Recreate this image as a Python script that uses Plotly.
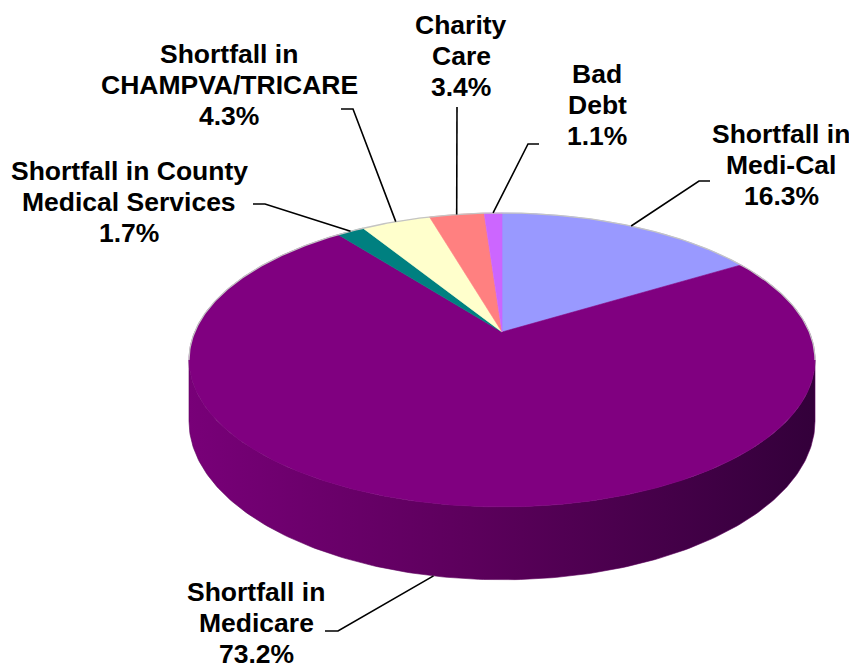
import numpy as np
import plotly.graph_objects as go

# ---------------- data ----------------
categories = ["Shortfall in Medi-Cal", "Shortfall in Medicare",
              "Shortfall in County Medical Services", "Shortfall in CHAMPVA/TRICARE",
              "Charity Care", "Bad Debt"]
values = [16.3, 73.2, 1.7, 4.3, 3.4, 1.1]
label_lines = [["Shortfall in", "Medi-Cal"], ["Shortfall in", "Medicare"],
               ["Shortfall in County", "Medical Services"], ["Shortfall in", "CHAMPVA/TRICARE"],
               ["Charity", "Care"], ["Bad", "Debt"]]

# ---------------- style ----------------
colors = ["#9999FF", "#800080", "#008080", "#FFFFCC", "#FF8080", "#CC66FF"]
side_scales = {1: [[0, "#780078"], [0.45, "#5c005c"], [1, "#33003a"]]}

# label block centres (x, y of middle line) and leader anchors (x_start, x_elbow, y)
label_pos = [(781, 165), (256, 623), (129, 202), (229, 85), (461, 56), (597, 105)]
leader_anchor = [(710, 699, 181), (325, 338, 631), (253, 265, 204),
                 (341, 353, 109), (457, 457, 107), (539, 528, 144)]
LINE_H = 30.7
FONT = dict(family="Liberation Sans, Arial, sans-serif", size=26.5, color="#000000", weight="bold")

# 3-D projection parameters
CX, CY = 502, 332
SX, SY = 307.3, 141.7
K = 0.19
D0 = 59.0

# page offset of the plot div (default body margin)
OFF = 8
W, H = 857, 669


def proj(theta_deg, drop=0.0):
    t = np.radians(np.asarray(theta_deg, dtype=float))
    x = np.sin(t)
    y = np.cos(t)
    s = 1 + K * y
    return CX + SX * x / s, CY - SY * y / s + drop * D0 / s


total = float(sum(values))
bounds = np.concatenate([[0], np.cumsum(values)]) / total * 360.0
front_lo = np.degrees(np.arccos(-K))
front_hi = 360 - front_lo

fig = go.Figure()

# sides (only the front part is visible)
for i, (a, b) in enumerate(zip(bounds[:-1], bounds[1:])):
    lo, hi = max(a, front_lo), min(b, front_hi)
    if hi <= lo:
        continue
    th = np.linspace(lo, hi, 200)
    xt, yt = proj(th, 0)
    xb, yb = proj(th[::-1], 1)
    xs = np.concatenate([xt, xb, xt[:1]])
    ys = np.concatenate([yt, yb, yt[:1]])
    scale = side_scales.get(i, [[0, colors[i]], [1, colors[i]]])
    fig.add_trace(go.Scatter(x=xs, y=ys, mode="lines", fill="toself",
                             line=dict(width=0.6, color=scale[1][1]),
                             fillgradient=dict(type="horizontal", colorscale=scale),
                             hoverinfo="skip", showlegend=False))

# top faces
for i, (a, b) in enumerate(zip(bounds[:-1], bounds[1:])):
    n = max(int((b - a) * 2), 4)
    th = np.linspace(a, b, n)
    xa, ya = proj(th, 0)
    xs = np.concatenate([[CX], xa, [CX]])
    ys = np.concatenate([[CY], ya, [CY]])
    fig.add_trace(go.Scatter(x=xs, y=ys, mode="lines", fill="toself",
                             fillcolor=colors[i], line=dict(width=0.6, color=colors[i]),
                             name=categories[i], hoverinfo="name", showlegend=False))

# light rim along the back edge
th = np.linspace(-front_lo, front_lo, 300)
xr, yr = proj(th, 0)
fig.add_trace(go.Scatter(x=xr, y=yr, mode="lines", line=dict(width=1.3, color="#c4c4c4"),
                         hoverinfo="skip", showlegend=False))

# leader lines and labels
for i, (a, b) in enumerate(zip(bounds[:-1], bounds[1:])):
    mid = (a + b) / 2
    drop = 1 if front_lo <= mid <= front_hi else 0
    px, py = proj(mid, drop)
    x0, xe, y0 = leader_anchor[i]
    fig.add_trace(go.Scatter(x=[x0, xe, float(px)], y=[y0, y0, float(py)], mode="lines",
                             line=dict(width=1.6, color="#000000"),
                             hoverinfo="skip", showlegend=False))
    lines = label_lines[i] + [f"{values[i]:.1f}%"]
    cx, cy = label_pos[i]
    for j, txt in enumerate(lines):
        fig.add_annotation(x=cx, y=cy + (j - 1) * LINE_H, text=txt, showarrow=False,
                           xanchor="center", yanchor="middle", font=FONT)

fig.update_layout(
    width=W - OFF, height=H - OFF,
    margin=dict(l=0, r=0, t=0, b=0),
    paper_bgcolor="white", plot_bgcolor="white",
    xaxis=dict(range=[OFF, W], visible=False, fixedrange=True, domain=[0, 1]),
    yaxis=dict(range=[H, OFF], visible=False, fixedrange=True, domain=[0, 1]),
    showlegend=False,
)

fig.write_html("out.html")
